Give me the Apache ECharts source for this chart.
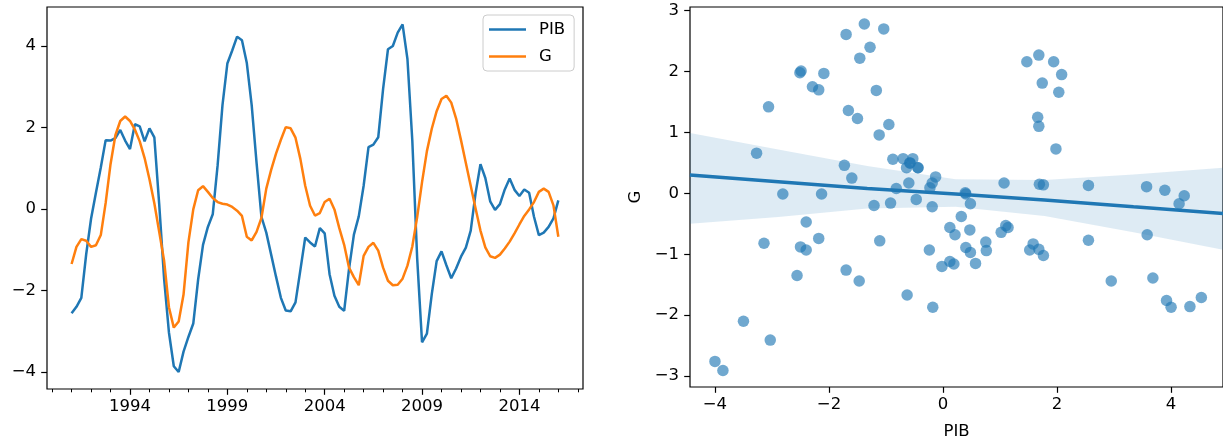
<!DOCTYPE html>
<html>
<head>
<meta charset="utf-8">
<script src="https://cdn.jsdelivr.net/npm/echarts@6/dist/echarts.min.js"></script>
<style>
html,body{margin:0;padding:0;background:#fff;}
#chart{width:1223px;height:445px;}
</style>
</head>
<body>
<div id="chart"></div>
<script>
// Quarterly series, 1991Q1 .. 2016Q1
const startYear = 1991;
const PIB = [
 -2.56,-2.40,-2.18,-1.11,-0.24, 0.40, 1.02, 1.69, 1.68, 1.74,
  1.94, 1.68, 1.47, 2.08, 2.03, 1.66, 1.98, 1.76, 0.12,-1.70,
 -3.03,-3.86,-4.00,-3.50,-3.14,-2.81,-1.73,-0.88,-0.44,-0.13,
  1.07, 2.55, 3.57, 3.89, 4.23, 4.14, 3.58, 2.55, 1.14,-0.19,
 -0.58,-1.12,-1.66,-2.18,-2.49,-2.51,-2.29,-1.50,-0.70,-0.82,
 -0.92,-0.47,-0.60,-1.60,-2.13,-2.40,-2.50,-1.47,-0.63,-0.18,
  0.57, 1.52, 1.58, 1.76, 2.95, 3.92, 4.00, 4.33, 4.53, 3.68,
  1.68,-1.21,-3.27,-3.06,-2.09,-1.28,-1.04,-1.38,-1.70,-1.46,
 -1.17,-0.95,-0.53, 0.39, 1.10, 0.76, 0.19,-0.02, 0.12, 0.48,
  0.75, 0.47, 0.32, 0.48, 0.40,-0.19,-0.64,-0.58,-0.44,-0.23,
  0.21
];
const G = [
 -1.35,-0.93,-0.74,-0.78,-0.93,-0.89,-0.64, 0.15, 1.10, 1.81,
  2.16, 2.27, 2.16, 1.95, 1.66, 1.25, 0.73, 0.14,-0.56,-1.26,
 -2.41,-2.91,-2.76,-2.10,-0.82,-0.01, 0.46, 0.56, 0.42, 0.27,
  0.17, 0.13, 0.11, 0.05,-0.04,-0.17,-0.68,-0.77,-0.56,-0.22,
  0.50, 0.96, 1.36, 1.70, 2.01, 1.98, 1.75, 1.23, 0.57, 0.08,
 -0.16,-0.10, 0.17, 0.25,-0.01,-0.47,-0.88,-1.44,-1.67,-1.87,
 -1.15,-0.93,-0.83,-1.02,-1.44,-1.76,-1.87,-1.86,-1.71,-1.39,
 -0.92,-0.20, 0.66, 1.42, 1.97, 2.40, 2.70, 2.78, 2.61, 2.22,
  1.69, 1.13, 0.57, 0.01,-0.53,-0.94,-1.16,-1.20,-1.12,-0.97,
 -0.80,-0.60,-0.38,-0.17,-0.01, 0.17, 0.42, 0.50, 0.42, 0.09,
 -0.68
];
// Regression fit and confidence band
const regX     = [-4.44, -2.89, -1.33, 0.22, 1.78, 3.34, 4.92];
const regLine  = [ 0.30,  0.19,  0.08,-0.01,-0.11,-0.22,-0.33];
const bandHigh = [ 0.99,  0.72,  0.45, 0.23, 0.22, 0.31, 0.42];
const bandLow  = [-0.50, -0.39, -0.25,-0.22,-0.37,-0.64,-0.93];
// Tick labels
const yearTicks = [1994, 1999, 2004, 2009, 2014];
const minorYearTicks = [1990,1991,1992,1993,1995,1996,1997,1998,2000,2001,2002,2003,2005,2006,2007,2008,2010,2011,2012,2013,2015,2016,2017];
const leftYTicks = [-4, -2, 0, 2, 4];
const rightXTicks = [-4, -2, 0, 2, 4];
const rightYTicks = [-3, -2, -1, 0, 1, 2, 3];

const dates = PIB.map((_, i) => startYear + i * 0.25);
const fmt = v => String(v).replace('-', '\u2212');
const FONT = 'DejaVu Sans';
const lab = {color: '#000', fontFamily: FONT, fontSize: 16.5};
const blue = '#1f77b4', orange = '#ff7f0e';
const noLine = {show: false, onZero: false};

const chart = echarts.init(document.getElementById('chart'), null, {renderer: 'canvas'});
const option = {
  animation: false,
  backgroundColor: '#fff',
  grid: [
    {left: 47, top: 7, width: 536, height: 382, show: true, borderColor: '#000', borderWidth: 1.2, backgroundColor: 'transparent'},
    {left: 690, top: 7, width: 534, height: 382, show: true, borderColor: '#000', borderWidth: 1.2, backgroundColor: 'transparent'}
  ],
  legend: {
    data: ['PIB', 'G'],
    orient: 'vertical',
    left: 483, top: 15,
    icon: 'rect', itemWidth: 37, itemHeight: 2.5, itemGap: 10,
    padding: [6, 9, 6, 6],
    borderColor: '#cccccc', borderWidth: 1, borderRadius: 4,
    backgroundColor: 'rgba(255,255,255,0.8)',
    textStyle: {color: '#000', fontFamily: FONT, fontSize: 16.5, padding: [0, 0, 0, 8]}
  },
  xAxis: [
    {type: 'value', gridIndex: 0, min: 1989.737, max: 2017.267, position: 'bottom',
     axisLine: noLine, splitLine: {show: false},
     axisTick: {show: true, length: 5.8, lineStyle: {color: '#000', width: 1.2}, customValues: yearTicks},
     axisLabel: Object.assign({margin: 9, customValues: yearTicks, formatter: v => String(v)}, lab)},
    {type: 'value', gridIndex: 0, min: 1989.737, max: 2017.267, position: 'bottom',
     axisLine: noLine, splitLine: {show: false},
     axisTick: {show: true, length: 3.3, lineStyle: {color: '#000', width: 1}, customValues: minorYearTicks},
     axisLabel: {show: false}},
    {type: 'value', gridIndex: 1, min: -4.4376, max: 4.91, position: 'bottom',
     axisLine: noLine, splitLine: {show: false},
     name: 'PIB', nameLocation: 'middle', nameGap: 36,
     nameTextStyle: {color: '#000', fontFamily: FONT, fontSize: 16.5},
     axisTick: {show: true, length: 5.8, lineStyle: {color: '#000', width: 1.2}, customValues: rightXTicks},
     axisLabel: Object.assign({margin: 9, customValues: rightXTicks, formatter: fmt}, lab)}
  ],
  yAxis: [
    {type: 'value', gridIndex: 0, min: -4.417, max: 4.957, position: 'left',
     axisLine: noLine, splitLine: {show: false},
     axisTick: {show: true, length: 5.8, lineStyle: {color: '#000', width: 1.2}, customValues: leftYTicks},
     axisLabel: Object.assign({margin: 11, customValues: leftYTicks, formatter: fmt}, lab)},
    {type: 'value', gridIndex: 1, min: -3.18, max: 3.06, position: 'left',
     axisLine: noLine, splitLine: {show: false},
     name: 'G', nameLocation: 'middle', nameGap: 46, nameRotate: 90,
     nameTextStyle: {color: '#000', fontFamily: FONT, fontSize: 16.5},
     axisTick: {show: true, length: 5.8, lineStyle: {color: '#000', width: 1.2}, customValues: rightYTicks},
     axisLabel: Object.assign({margin: 11, customValues: rightYTicks, formatter: fmt}, lab)}
  ],
  series: [
    {name: 'PIB', type: 'line', xAxisIndex: 0, yAxisIndex: 0, showSymbol: false, symbol: 'none',
     data: dates.map((d, i) => [d, PIB[i]]), lineStyle: {color: blue, width: 2.5}, itemStyle: {color: blue}},
    {name: 'G', type: 'line', xAxisIndex: 0, yAxisIndex: 0, showSymbol: false, symbol: 'none',
     data: dates.map((d, i) => [d, G[i]]), lineStyle: {color: orange, width: 2.5}, itemStyle: {color: orange}},
    {name: 'scatter', type: 'scatter', xAxisIndex: 2, yAxisIndex: 1, symbolSize: 11.5,
     data: PIB.map((p, i) => [p, G[i]]), itemStyle: {color: 'rgba(31,119,180,0.8)'}},
    {name: 'band', type: 'custom', xAxisIndex: 2, yAxisIndex: 1, clip: true,
     data: regX.map((x, i) => [x, bandLow[i], bandHigh[i]]),
     renderItem: function (params, api) {
       if (params.dataIndex !== 0) return null;
       const up = regX.map((x, i) => api.coord([x, bandHigh[i]]));
       const lo = regX.map((x, i) => api.coord([x, bandLow[i]])).reverse();
       return {type: 'polygon', shape: {points: up.concat(lo)},
               style: {fill: 'rgba(31,119,180,0.15)'}};
     }},
    {name: 'fit', type: 'line', xAxisIndex: 2, yAxisIndex: 1, symbol: 'none',
     data: regX.map((x, i) => [x, regLine[i]]), lineStyle: {color: blue, width: 3.5}}
  ]
};
chart.setOption(option);
</script>
</body>
</html>
